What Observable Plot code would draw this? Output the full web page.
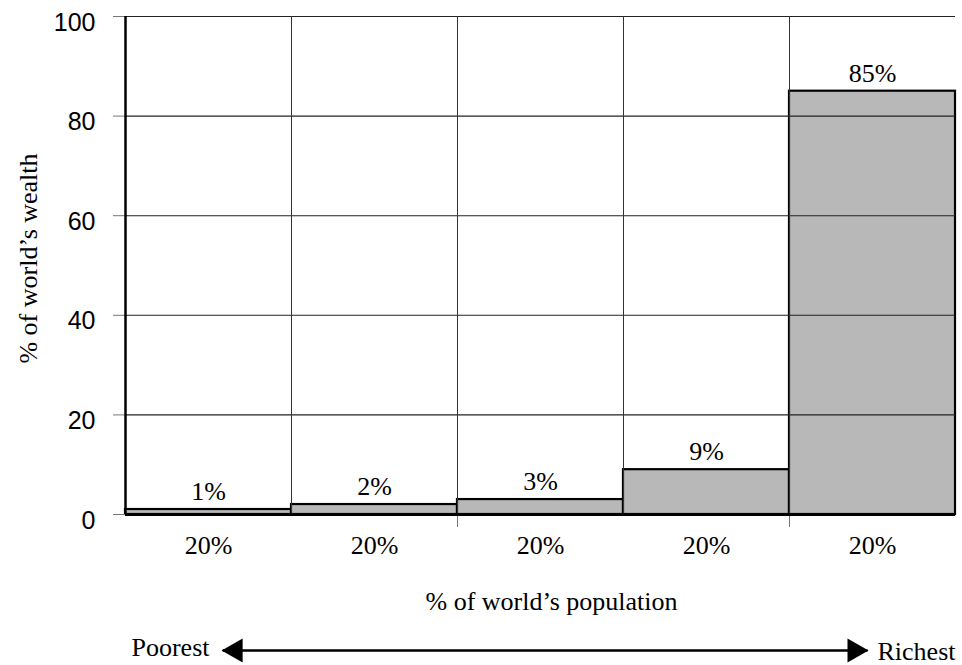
<!DOCTYPE html>
<html>
<head>
<meta charset="utf-8">
<script src="https://cdn.jsdelivr.net/npm/d3@7"></script>
<script src="https://cdn.jsdelivr.net/npm/@observablehq/plot@0.6"></script>
<style>
  html, body { margin: 0; padding: 0; background: white; }
  #chart svg { display: block; }
</style>
</head>
<body>
<div id="chart"></div>
<script>
// ---- data ----
const groups = ["Poorest", "Second", "Third", "Fourth", "Richest"];
const populationShare = [20, 20, 20, 20, 20];   // % of world's population
const wealthShare = [1, 2, 3, 9, 85];           // % of world's wealth
const yTicks = [0, 20, 40, 60, 80, 100];
const gridY = [20, 40, 60, 80, 100];
const xLabel = "% of world’s population";
const yLabel = "% of world’s wealth";
const leftLabel = "Poorest";
const rightLabel = "Richest";

// build table with cumulative population positions
const ends = d3.cumsum(populationShare);
const table = groups.map((g, i) => ({
  group: g,
  x1: ends[i] - populationShare[i],
  x2: ends[i],
  mid: ends[i] - populationShare[i] / 2,
  pop: populationShare[i],
  wealth: wealthShare[i]
}));
const boundaries = Array.from(ends).slice(0, -1);   // 20, 40, 60, 80
const belowTicks = [boundaries[1], boundaries[3]]; // ticks below the base
const arrowSpan = [11.7, 89.4];

const serif = '"Liberation Serif", "Times New Roman", serif';
const sans = '"Liberation Sans", Arial, sans-serif';

const chart = Plot.plot({
  width: 962,
  height: 665,
  marginLeft: 125,
  marginRight: 7,
  marginTop: 16,
  marginBottom: 151,
  x: {domain: [0, 100], axis: null},
  y: {domain: [0, 100]},
  style: {background: "white", overflow: "visible", fontFamily: serif},
  marks: [
    // bars
    Plot.rectY(table, {x1: "x1", x2: "x2", y: "wealth", fill: "#b8b8b8", stroke: "black", strokeWidth: 2.2}),
    // horizontal grid
    Plot.ruleY(gridY, {stroke: "#222", strokeWidth: 1.1}),
    // vertical grid
    Plot.ruleX(boundaries, {y1: 0, y2: 100, stroke: "#333", strokeWidth: 1}),
    // small ticks below the baseline
    Plot.ruleX(belowTicks, {y1: 0, y2: 0, insetBottom: -13, stroke: "#777", strokeWidth: 1}),
    // y tick marks
    Plot.axisY(yTicks, {tickSize: 12, tickFormat: () => "", label: null, stroke: "#777", strokeWidth: 1}),
    // y tick labels
    Plot.axisY(yTicks, {tickSize: 0, tickPadding: 30, dy: 6, label: null, fontSize: 25, fontFamily: sans, fill: "black", tickFormat: d => String(d)}),
    // baseline and left axis
    Plot.ruleY([0], {stroke: "black", strokeWidth: 3}),
    Plot.ruleX([0], {y1: 0, y2: 100, stroke: "black", strokeWidth: 2.5}),
    // value labels above bars
    Plot.text(table, {x: "mid", y: "wealth", text: d => d.wealth + "%", dy: -18, fontSize: 26, fontFamily: serif, fill: "black", lineAnchor: "middle"}),
    // population labels below bars
    Plot.text(table, {x: "mid", y: () => 0, text: d => d.pop + "%", dy: 31, fontSize: 26, fontFamily: serif, fill: "black", lineAnchor: "middle"}),
    // x title
    Plot.text([xLabel], {x: () => 50, y: () => 0, text: d => d, dx: 11, dy: 87, fontSize: 26, fontFamily: serif, fill: "black", lineAnchor: "middle", textAnchor: "middle"}),
    // y title
    Plot.text([yLabel], {frameAnchor: "left", text: d => d, rotate: -90, dx: -97, dy: -7, fontSize: 26, fontFamily: serif, fill: "black", lineAnchor: "middle", textAnchor: "middle"}),
    // double arrow
    Plot.link([arrowSpan], {x1: d => d[0], x2: d => d[1], y1: () => 0, y2: () => 0, dy: 136, stroke: "black", strokeWidth: 2.5}),
    Plot.dot([arrowSpan[0]], {x: d => d, y: () => 0, dx: 13, dy: 136, symbol: "triangle", rotate: -90, r: 9, fill: "black", stroke: "none"}),
    Plot.dot([arrowSpan[1]], {x: d => d, y: () => 0, dx: -13, dy: 136, symbol: "triangle", rotate: 90, r: 9, fill: "black", stroke: "none"}),
    Plot.text([leftLabel], {x: () => 0, y: () => 0, text: d => d, dx: 6, dy: 133, textAnchor: "start", fontSize: 26, fontFamily: serif, fill: "black", lineAnchor: "middle"}),
    Plot.text([rightLabel], {x: () => 100, y: () => 0, text: d => d, dy: 137, textAnchor: "end", fontSize: 26, fontFamily: serif, fill: "black", lineAnchor: "middle"})
  ]
});
document.getElementById("chart").appendChild(chart);
</script>
</body>
</html>
